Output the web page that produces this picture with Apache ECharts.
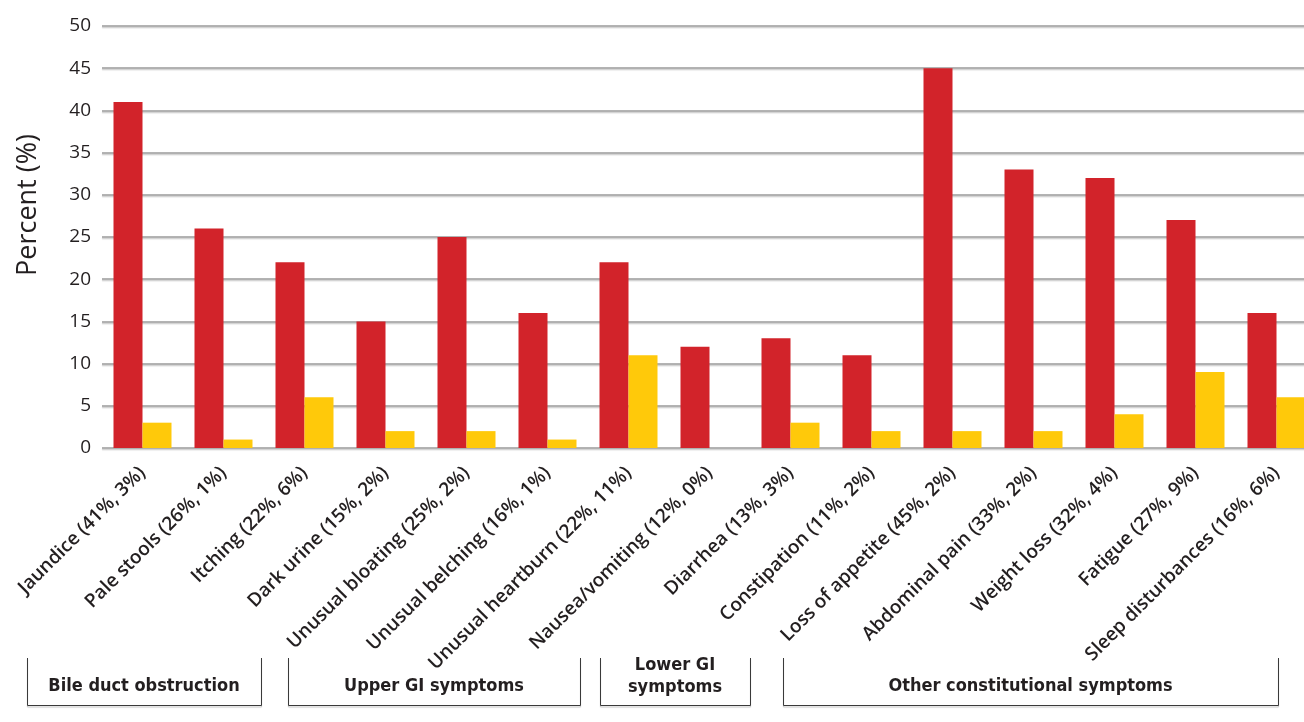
<!DOCTYPE html>
<html>
<head>
<meta charset="utf-8">
<title>Symptoms</title>
<script src="https://cdn.jsdelivr.net/npm/echarts@6/dist/echarts.min.js"></script>
<style>
  html, body { margin: 0; padding: 0; background: #fff; overflow: hidden; }
  /* the plot runs slightly past the right edge of the page */
  #chart { width: 1317px; height: 722px; }
</style>
</head>
<body>
<div id="chart"></div>
<script>
// Symptom names and the two percentages reported for each
const symptoms = ['Jaundice', 'Pale stools', 'Itching', 'Dark urine', 'Unusual bloating',
  'Unusual belching', 'Unusual heartburn', 'Nausea/vomiting', 'Diarrhea', 'Constipation',
  'Loss of appetite', 'Abdominal pain', 'Weight loss', 'Fatigue', 'Sleep disturbances'];
const redValues = [41, 26, 22, 15, 25, 16, 22, 12, 13, 11, 45, 33, 32, 27, 16];
const yellowValues = [3, 1, 6, 2, 2, 1, 11, 0, 3, 2, 2, 2, 4, 9, 6];
const yTicks = [0, 5, 10, 15, 20, 25, 30, 35, 40, 45, 50];
const groupNames = ['Bile duct obstruction', 'Upper GI symptoms', 'Lower GI\nsymptoms', 'Other constitutional symptoms'];

const categoryLabels = symptoms.map((s, i) => `${s} (${redValues[i]}%, ${yellowValues[i]}%)`);

const chart = echarts.init(document.getElementById('chart'), null, { renderer: 'canvas' });

// bracket boxes under the axis labels: [left, right]
const boxes = [[27, 261], [288, 580], [600, 750], [783, 1278]];
const boxTop = 658, boxBottom = 705;
const graphics = [];
boxes.forEach((b, i) => {
  graphics.push({
    type: 'polyline',
    shape: { points: [[b[0] + 0.5, boxTop], [b[0] + 0.5, boxBottom + 0.5], [b[1] + 0.5, boxBottom + 0.5], [b[1] + 0.5, boxTop]] },
    style: { stroke: '#3a3a3a', lineWidth: 1, fill: null, shadowColor: 'rgba(0,0,0,0.25)', shadowOffsetY: 1.5, shadowBlur: 1 }
  });
  graphics.push({
    type: 'text',
    x: (b[0] + b[1]) / 2,
    y: groupNames[i].includes('\n') ? 676 : 686,
    style: {
      text: groupNames[i],
      font: 'bold 18px "Liberation Sans Narrow", "DejaVu Sans Condensed", sans-serif',
      fill: '#231f20',
      textAlign: 'center',
      textVerticalAlign: 'middle',
      lineHeight: 22
    }
  });
});
graphics.push({
  type: 'text',
  x: 28,
  y: 205,
  rotation: Math.PI / 2,
  style: {
    text: 'Percent (%)',
    font: '27px "Open Sans", sans-serif',
    fill: '#231f20',
    textAlign: 'center',
    textVerticalAlign: 'middle'
  }
});

chart.setOption({
  animation: false,
  grid: { left: 102, right: 0, top: 26, bottom: 274, containLabel: false },
  xAxis: {
    type: 'category',
    data: categoryLabels,
    axisLine: { show: false },
    axisTick: { show: false },
    axisLabel: {
      interval: 0,
      rotate: 45,
      margin: 22,
      color: '#231f20',
      fontFamily: '"Open Sans", sans-serif',
      fontWeight: 600,
      fontSize: 19
    }
  },
  yAxis: {
    type: 'value',
    min: yTicks[0],
    max: yTicks[yTicks.length - 1],
    interval: yTicks[1] - yTicks[0],
    axisLine: { show: false },
    axisTick: { show: false },
    axisLabel: {
      margin: 11,
      color: '#231f20',
      fontFamily: '"Open Sans", sans-serif',
      fontSize: 19
    },
    splitLine: {
      show: true,
      lineStyle: { color: '#9a9a9a', width: 1.5, shadowColor: 'rgba(0,0,0,0.2)', shadowOffsetY: 1.5, shadowBlur: 1 }
    }
  },
  series: [
    {
      type: 'bar',
      data: redValues,
      barWidth: 29,
      barGap: '0%',
      itemStyle: { color: '#d2232a' }
    },
    {
      type: 'bar',
      data: yellowValues,
      barWidth: 29,
      itemStyle: { color: '#ffc90a' }
    }
  ],
  graphic: graphics
});
</script>
</body>
</html>
